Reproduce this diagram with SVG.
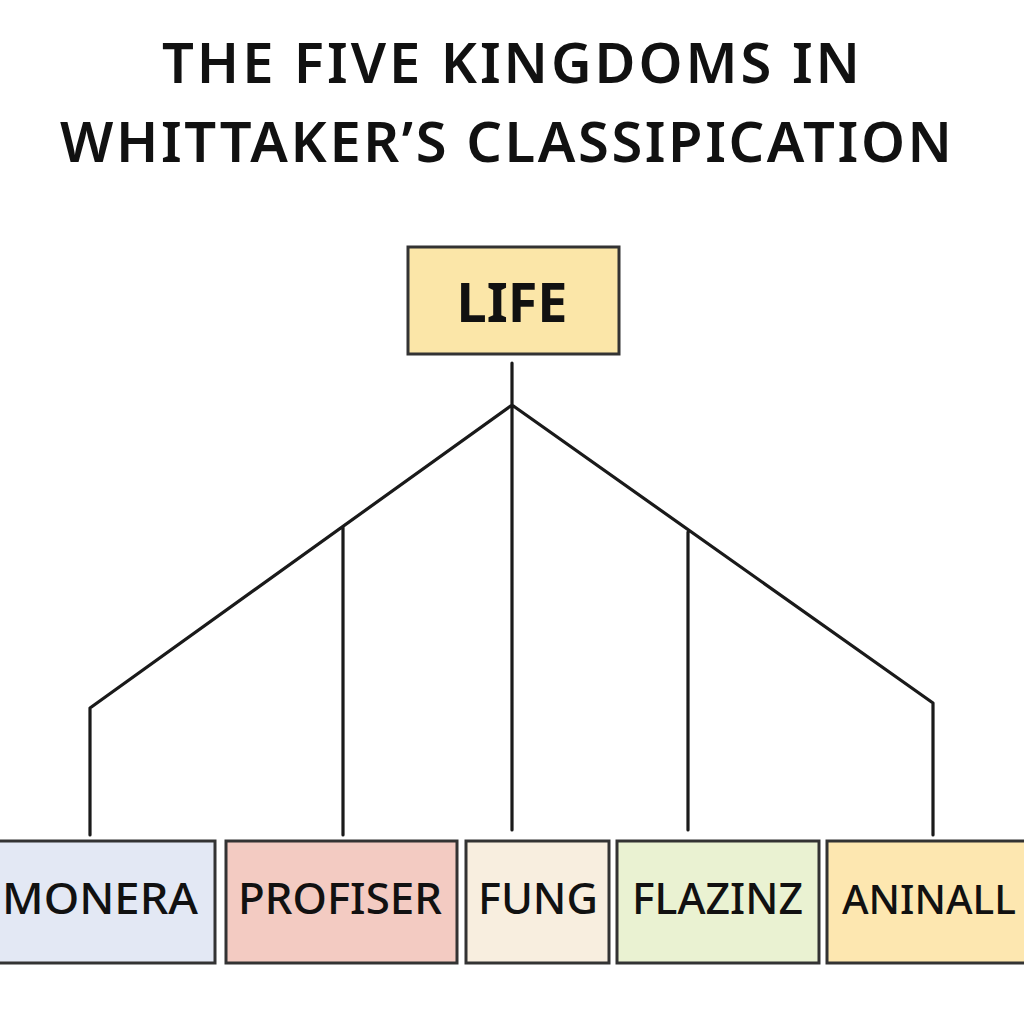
<svg xmlns="http://www.w3.org/2000/svg" width="1024" height="1024" viewBox="0 0 1024 1024">
<style>
.title{font-family:"Noto Sans","Open Sans",sans-serif;font-weight:600;font-size:56px;fill:#111;}
.box{stroke:#333;stroke-width:3;}
.lbl{font-family:"Noto Sans","Open Sans",sans-serif;font-weight:500;font-size:43px;fill:#111;}
.conn{stroke:#1a1a1a;stroke-width:3.2;fill:none;stroke-linecap:round;stroke-linejoin:round;}
</style>
<rect width="1024" height="1024" fill="#ffffff"/>
<g id="title">
<text class="title" x="162" y="83" textLength="698" lengthAdjust="spacing">THE FIVE KINGDOMS IN</text>
<text class="title" x="60" y="162" textLength="892" lengthAdjust="spacing">WHITTAKER’S CLASSIPICATION</text>
</g>
<g id="connectors">
<path class="conn" d="M512 363 L512 405 M512 405 L90 708 L90 835 M512 405 L512 830 M512 405 L933 703 L933 835 M343 527 L343 835 M688 532 L688 830"/>
</g>
<g id="life">
<rect class="box" x="408" y="247" width="211" height="107" fill="#fbe6a8"/>
<text x="512" y="322" text-anchor="middle" style="font-family:'Noto Sans','Open Sans',sans-serif;font-weight:700;font-size:54px;fill:#111">LIFE</text>
</g>
<g id="monera">
<rect class="box" x="-5" y="841" width="220" height="122" fill="#e3e8f4"/>
<text class="lbl" x="2" y="914" textLength="196" lengthAdjust="spacingAndGlyphs">MONERA</text>
</g>
<g id="profiser">
<rect class="box" x="226" y="841" width="231" height="122" fill="#f3cbc2"/>
<text class="lbl" x="238" y="914" textLength="204" lengthAdjust="spacingAndGlyphs">PROFISER</text>
</g>
<g id="fung">
<rect class="box" x="466" y="841" width="143" height="122" fill="#f8eedf"/>
<text class="lbl" x="478" y="914" textLength="120" lengthAdjust="spacingAndGlyphs">FUNG</text>
</g>
<g id="flazinz">
<rect class="box" x="617" y="841" width="202" height="122" fill="#eaf2d2"/>
<text class="lbl" x="632" y="914" textLength="171" lengthAdjust="spacingAndGlyphs">FLAZINZ</text>
</g>
<g id="aninall">
<rect class="box" x="827" y="841" width="205" height="122" fill="#fde7b0"/>
<text class="lbl" x="842" y="914" style="font-size:39px" textLength="174" lengthAdjust="spacingAndGlyphs">ANINALL</text>
</g>
</svg>
